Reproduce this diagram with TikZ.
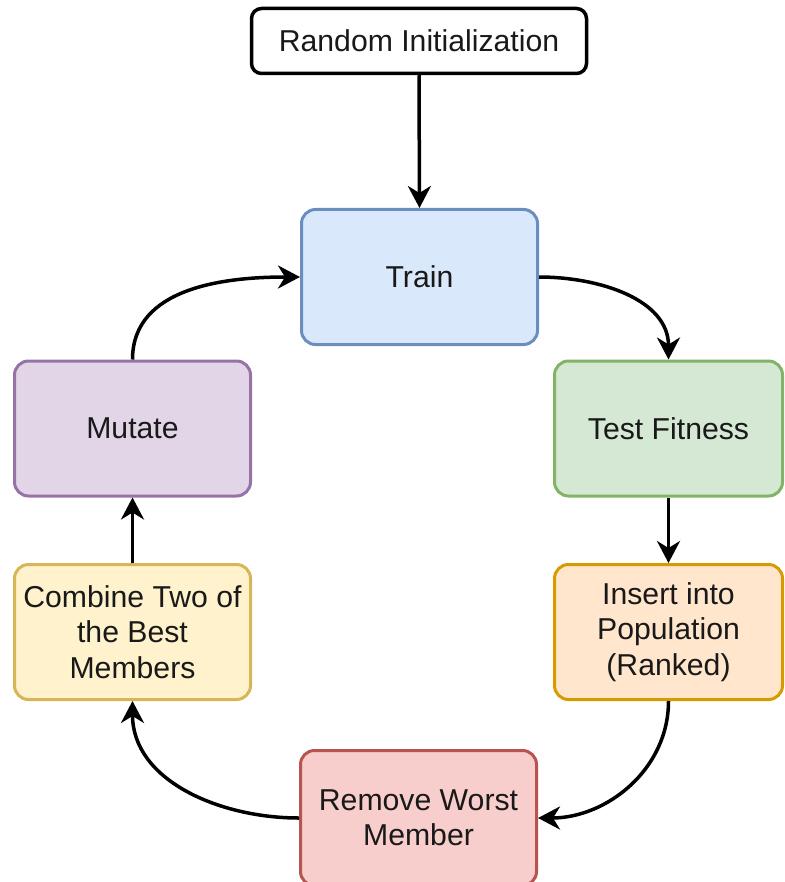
\documentclass[tikz,border=0pt]{standalone}
\usepackage{fontspec}
\setmainfont{Liberation Sans}
\usepackage{xcolor}
\definecolor{trainfill}{RGB}{218, 232, 252}
\definecolor{trainline}{RGB}{108, 142, 191}
\definecolor{fitfill}{RGB}{213, 232, 212}
\definecolor{fitline}{RGB}{130, 179, 102}
\definecolor{insertfill}{RGB}{255, 230, 204}
\definecolor{insertline}{RGB}{215, 155, 0}
\definecolor{removefill}{RGB}{248, 206, 204}
\definecolor{removeline}{RGB}{184, 84, 80}
\definecolor{combinefill}{RGB}{255, 242, 204}
\definecolor{combineline}{RGB}{214, 182, 86}
\definecolor{mutatefill}{RGB}{225, 213, 231}
\definecolor{mutateline}{RGB}{150, 115, 166}
\definecolor{textdark}{RGB}{25, 25, 25}
\usetikzlibrary{arrows.meta}

\begin{document}
\begin{tikzpicture}[x=0.5pt, y=-0.5pt,
  stage/.style={rectangle, rounded corners=7pt, line width=1.5pt, minimum width=118pt,
    minimum height=67.5pt, inner sep=2pt, align=center, text=textdark,
    font=\fontsize{15.1pt}{17.6pt}\selectfont},
  flow/.style={-{Stealth[length=11pt, width=11.5pt, inset=3.5pt]}, line width=1.75pt, black}]

  \useasboundingbox (0,0) rectangle (784,882);

  % START
  \node[stage, rounded corners=5pt, draw=black, line width=1.75pt, fill=white,
    minimum width=167.5pt, minimum height=32.5pt] (init) at (419,41) {Random Initialization};

  % LOOP
  \node[stage, draw=trainline, fill=trainfill] (train) at (419.5,277) {Train};
  \node[stage, draw=fitline, fill=fitfill, minimum width=114pt] (fitness) at (668.5,428.5) {Test Fitness};
  \node[stage, draw=insertline, fill=insertfill, minimum width=114pt] (insert) at (668.5,632) {Insert into\\Population\\(Ranked)};
  \node[stage, draw=removeline, fill=removefill] (remove) at (418.5,818) {Remove Worst\\Member};
  \node[stage, draw=combineline, fill=combinefill] (combine) at (132.5,632) {Combine Two of\\the Best\\Members};
  \node[stage, draw=mutateline, fill=mutatefill] (mutate) at (132.5,428.5) {Mutate};

  % connectors
  \draw[flow] (init.south) -- (train.north);
  \draw[flow] (train.east) to[out=0, in=90] (fitness.north);
  \draw[flow] (fitness.south) -- (insert.north);
  \draw[flow] (insert.south) to[out=-90, in=0] (remove.east);
  \draw[flow] (remove.west) to[out=180, in=-90] (combine.south);
  \draw[flow] (combine.north) -- (mutate.south);
  \draw[flow] (mutate.north) to[out=90, in=180] (train.west);

\end{tikzpicture}
\end{document}
